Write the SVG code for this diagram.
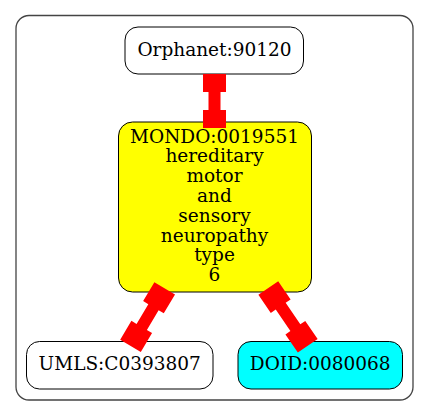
<svg xmlns="http://www.w3.org/2000/svg" width="429" height="416" viewBox="0 0 429 416">
<style>
.node rect{stroke:#000;stroke-width:1}
.lbl{font-family:"DejaVu Serif",serif;font-size:18.5px;fill:#000;text-anchor:middle}
.edge{fill:#ff0000;stroke:none}
</style>
<rect x="0" y="0" width="429" height="416" fill="#fff"/>
<rect id="cluster" x="16" y="15.5" width="397" height="384.5" rx="13" fill="none" stroke="#444" stroke-width="1.3"/>
<g id="orphanet" class="node">
<rect x="125" y="27" width="178.5" height="47" rx="13" fill="#fff"/>
<text class="lbl" x="214.5" y="56">Orphanet:90120</text>
</g>
<g id="mondo" class="node">
<rect x="118.5" y="122" width="193" height="170" rx="14" fill="#ffff00"/>
<text class="lbl" x="214.5" y="142.5">MONDO:0019551</text>
<text class="lbl" x="214.5" y="162.3">hereditary</text>
<text class="lbl" x="214.5" y="182.1">motor</text>
<text class="lbl" x="214.5" y="201.9">and</text>
<text class="lbl" x="214.5" y="221.7">sensory</text>
<text class="lbl" x="214.5" y="241.5">neuropathy</text>
<text class="lbl" x="214.5" y="261.3">type</text>
<text class="lbl" x="214.5" y="281.1">6</text>
</g>
<g id="umls" class="node">
<rect x="26.5" y="341.5" width="186.5" height="47.5" rx="13" fill="#fff"/>
<text class="lbl" x="119.75" y="370">UMLS:C0393807</text>
</g>
<g id="doid" class="node">
<rect x="238" y="341.5" width="164.5" height="47.5" rx="13" fill="#00ffff"/>
<text class="lbl" x="320.25" y="370">DOID:0080068</text>
</g>
<g id="connectors">
<polygon class="edge" transform="translate(214.5,74)" points="-11.5,0 11.5,0 11.5,18 6,18 6,36 11.5,36 11.5,54 -11.5,54 -11.5,36 -6,36 -6,18 -11.5,18"/>
<polygon class="edge" transform="translate(164.7,288.3) rotate(30.7)" points="-12,0 12,0 12,22 6,22 6,45 12,45 12,67 -12,67 -12,45 -6,45 -6,22 -12,22"/>
<polygon class="edge" transform="translate(268.3,288) rotate(-34.3)" points="-12,0 12,0 12,22 6,22 6,48 12,48 12,70 -12,70 -12,48 -6,48 -6,22 -12,22"/>
</g>
</svg>
